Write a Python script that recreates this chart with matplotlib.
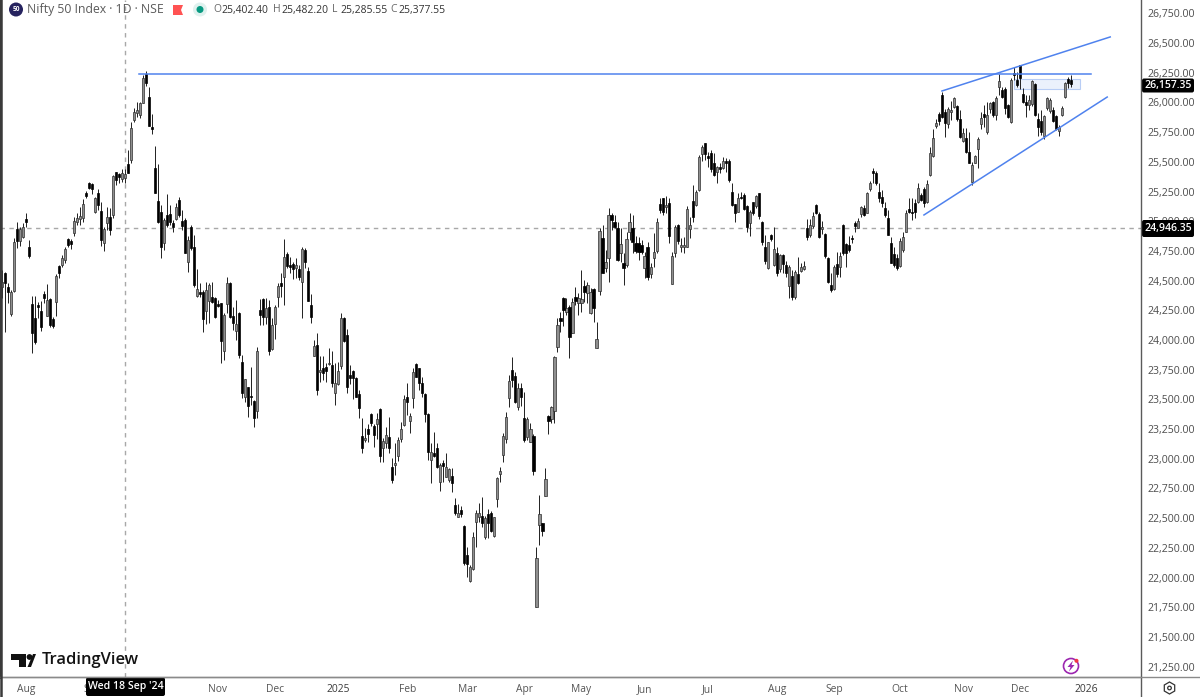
import matplotlib
matplotlib.use("Agg")
import matplotlib.pyplot as plt
import numpy as np
from matplotlib.patches import Rectangle, FancyBboxPatch, Circle, Polygon, RegularPolygon

highs = [
24590,24576,24478,24421,24857,24997,24955,24983,25067,24843,
24371,24371,24323,24332,24416,24472,24351,24197,24556,24632,
24716,24781,24857,24848,25033,25067,25123,25185,25258,25334,
25320,25207,25269,25165,24955,25123,25109,25390,25417,25409,
25437,25437,25600,25838,25951,26007,26007,26231,26268,26128,
25903,25634,25482,25137,25025,25230,25137,25011,25151,25202,
25095,25025,24876,24969,24885,24595,24478,24421,24492,24483,
24492,24365,24337,24315,24225,24528,24492,24281,24337,24239,
23874,23669,23607,23776,23495,23944,24343,24351,24351,24337,
24183,24295,24478,24567,24851,24744,24697,24660,24688,24632,
24781,24772,24618,24388,24000,24062,23865,23865,23804,23930,
23910,23809,23818,24225,24191,24090,23790,23748,23686,23579,
23340,23256,23293,23383,23293,23388,23425,23172,23270,23349,
23004,23130,23180,23312,23537,23635,23383,23762,23804,23762,
23691,23557,23383,23136,23228,23130,22962,22990,23046,22919,
22919,22667,22619,22602,22442,22260,22105,22386,22569,22630,
22675,22518,22574,22563,22513,22849,22934,23214,23397,23705,
23860,23734,23635,23641,23565,23349,23304,23209,22254,22695,
22462,22919,23369,23444,23865,24183,24239,24364,24350,24294,
24350,24449,24392,24589,24505,24491,24435,24435,24154,24940,
24968,24757,25108,25066,25052,24996,24940,24729,24912,25066,
25052,24875,24864,24842,24743,24828,24645,24898,25024,25193,
25193,25212,25193,24743,24968,24976,24856,24864,25128,25033,
25305,25263,25557,25642,25661,25586,25600,25577,25465,25493,
25538,25529,25521,25319,25145,25240,25249,25240,25136,25094,
25164,25221,25240,25004,24884,24828,24892,24948,24780,24724,
24724,24668,24631,24589,24589,24696,24645,24668,25016,25016,
25080,25145,25080,25004,24903,24696,24567,24631,24743,24743,
24976,24814,24875,24884,25004,25024,25128,25136,25249,25341,
25445,25426,25324,25263,25164,25094,24864,24785,24724,24856,
24912,25094,25192,25192,25184,25319,25235,25291,25347,25622,
25773,25858,25922,26091,25942,25959,26015,26049,25978,25936,
25782,25782,25754,25501,25557,25712,25922,25978,26006,26006,
26015,26054,26239,26133,26127,25987,26203,26301,26259,26315,
26119,26063,26063,26189,26161,25908,25936,25894,26049,26035,
25964,25894,25810,25970,26175,26217,26231]

lows = [
24351,24071,24309,24205,24407,24772,24792,24857,24955,24688,
23894,23967,24183,24079,24315,24203,24113,24099,24203,24520,
24618,24652,24781,24764,24876,24969,24969,24997,25193,25269,
25230,25073,25095,24792,24753,24927,24885,25025,25305,25319,
25333,25319,25409,25487,25838,25881,25867,25993,26139,25802,
25735,25235,24982,24694,24758,24955,24969,24913,25011,25039,
24927,24730,24576,24758,24450,24365,24360,24071,24135,24141,
24309,24183,24275,23810,23832,24225,24183,24085,24000,23846,
23509,23481,23349,23453,23265,23341,24127,24127,24135,23874,
23916,24006,24275,24365,24295,24604,24562,24511,24520,24506,
24183,24604,24332,24146,23865,23537,23649,23663,23649,23790,
23602,23453,23621,23753,23986,23551,23630,23501,23523,23340,
23051,23144,23144,23276,23102,23164,22976,22976,23088,23051,
22793,22863,22984,23144,23276,23369,23220,23425,23686,23579,
23523,23312,22990,22793,23018,22919,22731,22807,22844,22807,
22723,22527,22513,22507,22105,22007,21965,22063,22254,22470,
22428,22322,22330,22386,22344,22597,22807,22976,23130,23433,
23602,23467,23411,23444,23144,23158,23144,22863,21755,22274,
22350,22687,23206,23304,23304,23902,24070,24118,24210,23846,
24056,24294,24210,24238,24322,24308,24218,24154,23929,24379,
24561,24575,24491,24926,24940,24668,24659,24463,24617,24842,
24735,24735,24673,24724,24519,24505,24519,24611,24735,25066,
25052,25066,24814,24471,24701,24808,24743,24735,24780,24856,
24996,25128,25257,25510,25515,25454,25417,25381,25324,25409,
25437,25417,25333,25128,24996,25080,25184,25094,24912,24875,
25052,25108,25016,24800,24640,24595,24836,24623,24538,24575,
24561,24533,24350,24336,24342,24471,24575,24589,24842,24864,
24940,25061,24856,24892,24687,24482,24407,24421,24527,24527,
24715,24617,24743,24814,24912,24940,25033,25044,25066,25257,
25319,25305,25164,25122,25038,24884,24645,24611,24589,24611,
24743,24912,25072,25010,25024,25156,25173,25122,25156,25381,
25538,25782,25810,25866,25712,25782,25852,25950,25846,25698,
25670,25577,25487,25305,25487,25445,25773,25790,25734,25908,
25875,25852,26063,26035,25903,25866,25830,26189,26127,26110,
25992,25880,25936,25970,25886,25717,25726,25689,25936,25908,
25838,25768,25717,25886,26035,26119,26133]

opens = [
24450,24562,24444,24219,24416,24932,24837,24871,25019,24781,
24304,24183,24295,24247,24388,24205,24343,24177,24323,24626,
24632,24674,24854,24837,24899,24997,25017,25025,25241,25325,
25314,25081,25241,25090,24814,24988,25033,25053,25417,25398,
25353,25361,25482,25516,25852,25909,25895,25998,26240,26049,
25796,25445,25170,25081,24820,25053,25061,24983,25017,25179,
25005,25011,24660,24949,24786,24371,24407,24407,24247,24332,
24365,24357,24304,24309,23911,24304,24483,24203,24079,24225,
23818,23523,23602,23529,23490,23405,24253,24343,24197,24275,
23922,24135,24360,24483,24528,24725,24632,24640,24604,24595,
24492,24758,24584,24295,23868,23958,23731,23762,23776,23795,
23790,23551,23630,23781,24183,24042,23705,23742,23677,23545,
23192,23158,23248,23377,23276,23290,23416,23088,23130,23180,
22934,22950,23023,23164,23284,23523,23321,23509,23795,23762,
23641,23545,23377,22990,23051,23088,22807,22962,22849,22821,
22855,22611,22513,22569,22434,22190,21973,22069,22470,22507,
22518,22338,22535,22541,22350,22658,22872,23032,23166,23509,
23748,23697,23433,23593,23340,23186,23144,23192,21755,22442,
22456,22687,23363,23332,23405,23938,24183,24350,24238,24280,
24056,24364,24314,24308,24454,24392,24224,24426,23932,24415,
24856,24603,24687,25052,24996,24940,24735,24651,24631,24912,
24940,24819,24819,24800,24603,24780,24555,24687,24752,25145,
25193,25117,25156,24471,24735,24968,24786,24786,24786,24931,
25173,25136,25263,25566,25656,25549,25577,25493,25417,25454,
25445,25510,25510,25249,25145,25080,25207,25221,25128,24988,
25164,25128,25235,24996,24780,24603,24887,24631,24729,24595,
24715,24631,24454,24539,24364,24555,24583,24600,24940,24884,
24960,25136,25061,24931,24892,24687,24463,24426,24640,24617,
24968,24808,24800,24856,24988,24940,25061,25108,25072,25268,
25426,25409,25249,25206,25108,25024,24814,24724,24687,24623,
24757,24912,25100,25080,25156,25164,25220,25268,25164,25389,
25549,25802,25903,26063,25922,25818,25922,25964,25970,25858,
25678,25698,25585,25333,25493,25605,25816,25903,25754,25942,
26006,25894,26127,26105,26110,25978,25838,26251,26189,26315,
26071,26006,25978,25987,26155,25858,25846,25717,25950,25931,
25936,25886,25762,25894,26043,26195,26189]

closes = [
24492,24478,24407,24402,24829,24837,24932,24949,24997,24711,
24057,23986,24281,24113,24351,24337,24127,24118,24539,24562,
24694,24764,24800,24809,25005,25025,25045,25143,25213,25278,
25269,25193,25137,24843,24932,25033,24927,25381,25347,25370,
25403,25398,25409,25782,25923,25937,25993,26203,26161,25802,
25774,25235,24996,24786,25011,24969,24997,24949,25118,25053,
24960,24736,24843,24772,24464,24427,24388,24174,24421,24464,
24323,24191,24287,23995,24211,24478,24197,24141,24135,23874,
23557,23669,23445,23518,23341,23911,24211,24191,24267,23911,
24127,24275,24455,24455,24697,24624,24612,24595,24632,24534,
24764,24660,24332,24191,23950,23579,23748,23725,23742,23809,
23635,23635,23739,24183,23995,23607,23677,23677,23517,23425,
23088,23172,23206,23304,23200,23332,23023,23152,23200,23088,
22821,22962,23158,23248,23501,23481,23360,23734,23691,23641,
23557,23377,23060,23060,23023,22928,22948,22939,22928,22911,
22793,22546,22546,22535,22125,22114,22086,22338,22541,22546,
22456,22498,22462,22395,22507,22835,22900,23192,23349,23655,
23663,23481,23593,23517,23158,23332,23248,22900,22162,22535,
22395,22827,23321,23439,23854,24126,24160,24252,24266,24028,
24322,24331,24350,24342,24407,24463,24407,24266,24008,24920,
24567,24659,25052,25010,24954,24673,24808,24603,24847,24996,
24828,24752,24743,24743,24707,24533,24611,24743,24996,25094,
25080,25136,24875,24707,24948,24836,24800,24800,25100,24968,
25033,25249,25538,25628,25566,25529,25437,25389,25454,25437,
25510,25487,25347,25136,25072,25193,25193,25100,24954,25080,
25066,25212,25044,24828,24668,24828,24847,24763,24561,24715,
24640,24561,24611,24359,24575,24482,24611,24623,24870,24968,
25044,25072,24864,24954,24707,24491,24421,24617,24555,24707,
24729,24729,24757,24847,24960,25004,25117,25052,25235,25324,
25403,25319,25192,25156,25052,24884,24645,24631,24603,24836,
24870,25072,25080,25072,25080,25277,25178,25156,25313,25577,
25698,25830,25846,25875,25824,25942,25936,26035,25858,25712,
25745,25585,25493,25473,25549,25689,25866,25875,25894,25998,
25894,26035,26183,26049,25950,25875,26189,26231,26147,26203,
26006,25978,26020,26183,25894,25796,25754,25886,26035,26020,
25846,25773,25796,25950,26161,26166,26157]

price_ticks = [26750,26500,26250,26000,25750,25500,25250,25000,24750,24500,24250,24000,
               23750,23500,23250,23000,22750,22500,22250,22000,21750,21500,21250]
time_labels = ['Aug','Sep','Nov','Dec','2025','Feb','Mar','Apr','May','Jun','Jul',
               'Aug','Sep','Oct','Nov','Dec','2026']
time_index = [8,30,72,91,112,135,155,174,193,214,235,258,277,299,320,339,361]

level_x = [45.7, 362.6]; level_y = [26236, 26236]
upper_x = [313, 369];    upper_y = [26097, 26552]
lower_x = [307, 368];    lower_y = [25053, 26046]
zone_x = [337, 359];     zone_y = [26114, 26198]
cross_index = 41
cross_price = 24946.35
last_price = 26157.35

W, H = 1200, 697
plt.rcParams['font.family'] = ['Open Sans', 'DejaVu Sans']
fig = plt.figure(figsize=(12, 6.97), dpi=100, facecolor='white')

px_right, px_bottom = 1141, 677
ax = fig.add_axes([0, (H - px_bottom) / H, px_right / W, px_bottom / H])
ax.set_facecolor('white')
idx = np.arange(len(opens))
o, c, hi, lo = map(np.array, (opens, closes, highs, lows))
ax.set_xlim(-0.566, 379.25)
ax.set_ylim(26000 - (677 - 102.5) * 8.42, 26000 + 102.5 * 8.42)

up = c >= o
ax.vlines(idx, lo, hi, color='#262626', lw=0.72, zorder=3)
ax.bar(idx[up], (c - o)[up], bottom=o[up], width=0.72, facecolor='#8f8f8f',
       edgecolor='#2e2e2e', linewidth=0.5, zorder=4)
ax.bar(idx[~up], (o - c)[~up], bottom=c[~up], width=0.72, facecolor='#000000',
       edgecolor='#000000', linewidth=0.5, zorder=4)

ax.axvline(cross_index, color='#a8a8a8', lw=1.0, ls=(0, (3.2, 3.2)), zorder=2)
ax.axhline(cross_price, color='#a8a8a8', lw=1.0, ls=(0, (3.2, 3.2)), zorder=2)

blue = '#4f82ee'
ax.plot(level_x, level_y, color=blue, lw=1.1, zorder=5)
ax.plot(upper_x, upper_y, color=blue, lw=1.1, zorder=5)
ax.plot(lower_x, lower_y, color=blue, lw=1.1, zorder=5)
ax.add_patch(Rectangle((zone_x[0], zone_y[0]), zone_x[1] - zone_x[0], zone_y[1] - zone_y[0],
                       facecolor='#e6eefc', edgecolor='#a9c3f4', lw=0.8, alpha=0.8, zorder=2.5))

ax.yaxis.tick_right()
ax.set_yticks(price_ticks)
ax.set_yticklabels([f'{v:,.2f}' for v in price_ticks], fontsize=7.6, color='#4d4d4d')
ax.tick_params(axis='y', length=0, pad=5)
ax.set_xticks(time_index)
ax.set_xticklabels(time_labels, fontsize=7.4, color='#555555')
for lab in ax.get_xticklabels():
    if lab.get_text() in ('2025', '2026'):
        lab.set_color('#3a3a3a')
        lab.set_fontweight('medium')
ax.tick_params(axis='x', length=0, pad=5)
for s in ('top', 'right'):
    ax.spines[s].set_visible(False)
ax.spines['bottom'].set_color('#8a8a8a')
ax.spines['bottom'].set_linewidth(1.0)
ax.spines['left'].set_color('#3a3a3a')
ax.spines['left'].set_linewidth(2.2)

# pixel-space overlay for chrome
ov = fig.add_axes([0, 0, 1, 1], zorder=10)
ov.set_xlim(0, W); ov.set_ylim(H, 0); ov.axis('off'); ov.patch.set_alpha(0)

ov.plot([1141, 1141], [0, 697], color='#5a5a5a', lw=1.0)
ov.plot([0, 1200], [677, 677], color='#8a8a8a', lw=1.0)
ov.plot([1, 1], [0, 697], color='#3a3a3a', lw=1.8)

def tag(x0, x1, y0, y1, text):
    ov.add_patch(FancyBboxPatch((x0 + 1, y0 + 1), x1 - x0 - 2, y1 - y0 - 2,
                                boxstyle='round,pad=1,rounding_size=2',
                                facecolor='#000000', edgecolor='none'))
    ov.text((x0 + x1) / 2, (y0 + y1) / 2 - 0.3, text, color='white', fontsize=7.6,
            fontweight='semibold', ha='center', va='center')

tag(1142, 1194, 78.5, 92.5, f'{last_price:,.2f}')
tag(1142, 1194, 220, 237, f'{cross_price:,.2f}')
tag(86, 165, 677.5, 696, "Wed 18 Sep '24")

# header
ov.add_patch(Circle((16, 9.5), 7, facecolor='#26235f', edgecolor='none'))
ov.text(16, 9.5, '50', color='white', fontsize=4.8, fontweight='bold', ha='center', va='center')
ov.text(27, 10, 'Nifty 50 Index · 1D · NSE', color='#5a5a5a', fontsize=8.8, ha='left', va='center')
ov.add_patch(Polygon([(173, 5), (183, 5), (181, 10), (183, 15), (173, 15)], facecolor='#ff5252', edgecolor='none'))
ov.add_patch(Circle((200, 9.5), 7, facecolor='#dff1ee', edgecolor='none'))
ov.add_patch(Circle((200, 9.5), 3.5, facecolor='#089981', edgecolor='none'))
for x, k, v in [(213.5, 'O', '25,402.40'), (273, 'H', '25,482.20'), (332, 'L', '25,285.55'), (390, 'C', '25,377.55')]:
    ov.text(x, 10, k, color='#666666', fontsize=7.5, ha='left', va='center')
    ov.text(x + 8.3, 10, v, color='#333333', fontsize=7.5, ha='left', va='center')

# logo
ov.add_patch(Polygon([(11, 654), (26, 654), (26, 667), (19, 667), (19, 660), (11, 660)], facecolor='#111111', edgecolor='none'))
ov.add_patch(Circle((29.5, 657), 2.9, facecolor='#111111', edgecolor='none'))
ov.add_patch(Polygon([(27.5, 667), (33, 654), (36, 654), (31, 667)], facecolor='#111111', edgecolor='none'))
ov.text(41.5, 660, 'TradingView', color='#131313', fontsize=11.9, fontweight='semibold', ha='left', va='center')

# bolt icon
ov.add_patch(Circle((1071, 666), 7.5, facecolor='none', edgecolor='#9c27b0', lw=1.2))
ov.add_patch(Polygon([(1073, 660.5), (1067.5, 667), (1070.5, 667), (1069, 671.5), (1074.5, 665), (1071.5, 665)],
                     facecolor='#9c27b0', edgecolor='none'))
ov.add_patch(Circle((1076.5, 660.8), 2, facecolor='#f23645', edgecolor='none'))

# settings icon
ov.add_patch(RegularPolygon((1169.5, 688), 6, radius=6, orientation=0, facecolor='none', edgecolor='#333333', lw=0.9))
ov.add_patch(Circle((1169.5, 688), 1.8, facecolor='none', edgecolor='#333333', lw=0.9))

fig.savefig('out.png', dpi=100, facecolor='white')
